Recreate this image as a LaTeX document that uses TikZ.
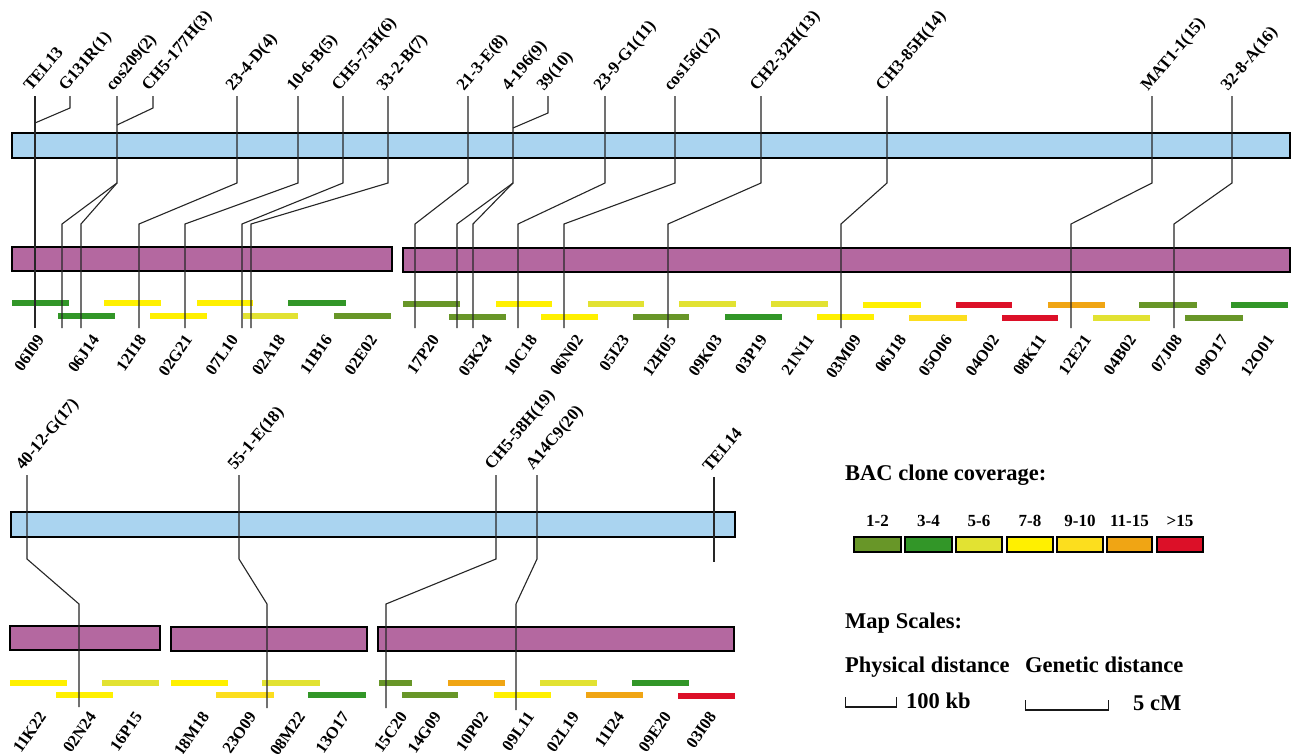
\documentclass[tikz,border=0pt]{standalone}
\usepackage{fontspec}
\setmainfont{Liberation Serif}
\definecolor{barblue}{RGB}{170,212,240}
\definecolor{barpink}{RGB}{180,104,160}
\definecolor{c12}{RGB}{104,150,40}
\definecolor{c34}{RGB}{50,150,40}
\definecolor{c56}{RGB}{226,226,50}
\definecolor{c78}{RGB}{255,240,0}
\definecolor{c910}{RGB}{252,222,30}
\definecolor{c1115}{RGB}{240,165,20}
\definecolor{c15}{RGB}{220,16,40}
\tikzset{
  mk/.style={draw=black!85, line width=1.1pt, line join=miter},
  bluebar/.style={draw=black, line width=1.4pt, fill=barblue},
  pinkbar/.style={draw=black, line width=1.4pt, fill=barpink},
  seg/.style={line width=5.5pt},
  toplab/.style={rotate=50, anchor=base west, inner sep=0pt, font=\fontsize{17}{17}\selectfont\bfseries},
  botlab/.style={rotate=55, anchor=base east, inner sep=0pt, font=\fontsize{16.5}{16.5}\selectfont\bfseries},
  head/.style={anchor=base west, inner sep=0pt, font=\fontsize{22.5}{24}\selectfont\bfseries},
  numlab/.style={anchor=base, inner sep=0pt, font=\fontsize{17}{17}\selectfont\bfseries},
  swatch/.style={draw=black, line width=1.2pt},
  scalebar/.style={draw=black!90, line width=1pt},
}
\begin{document}
\begin{tikzpicture}[x=1pt,y=-1pt]
\useasboundingbox (0,0) rectangle (1291,753);
\fill[white] (0,0) rectangle (1291,753);

% ===== top section: bars =====
\draw[bluebar] (12,133) rectangle (1290,158);
\draw[pinkbar] (12,247) rectangle (392,271);
\draw[pinkbar] (403,248) rectangle (1290,272);

% BAC clone segments (top)
\foreach \a/\b/\r/\c in {12/69/303/c34, 58/115/316/c34, 104/161/303/c78, 150/207/316/c78,
  197/253/303/c78, 243/298/316/c56, 288/346/303/c34, 334/391/316/c12,
  403/460/304/c12, 449/506/317/c12, 496/552/304/c78, 541/598/317/c78,
  588/644/304/c56, 633/689/317/c12, 679/736/304/c56, 725/782/317/c34,
  771/828/304/c56, 817/874/317/c78, 863/921/305/c78, 909/967/318/c910,
  956/1012/305/c15, 1002/1058/318/c15, 1048/1105/305/c1115, 1093/1150/318/c56,
  1139/1197/305/c12, 1185/1243/318/c12, 1231/1288/305/c34}
  \draw[seg,\c] (\a,\r) -- (\b,\r);

% markers (top) with one bottom end
\foreach \t/\xa/\xb [count=\i] in {TEL13/35/35, 23-4-D(4)/237/139, 10-6-B(5)/298/185,
  CH5-75H(6)/343/242, 33-2-B(7)/388/251, 21-3-E(8)/468/415, 23-9-G1(11)/605/518,
  cos156(12)/675/564, CH2-32H(13)/761/668, CH3-85H(14)/887/841,
  MAT1-1(15)/1152/1071, 32-8-A(16)/1232/1174}{
  \node[toplab] (ta\i) at (\xa-4,92) {\t};
  \coordinate (tat\i) at (\xa,96);
  \coordinate (tab\i) at (\xb,328);
  \draw[mk] (tat\i) -- (\xa,183) -- (\xb,224) -- (tab\i);
}
% markers with two bottom ends
\node[toplab] (cos209) at (113,92) {cos209(2)};
\coordinate (cos209t) at (117,96);
\coordinate (cos209m) at (117,183);
\coordinate (cos209a) at (62,328);
\coordinate (cos209b) at (81,328);
\draw[mk] (cos209t) -- (cos209m) -- (62,224) -- (cos209a);
\draw[mk] (cos209m) -- (81,224) -- (cos209b);
\node[toplab] (m4196) at (509,92) {4-196(9)};
\coordinate (m4196t) at (513,96);
\coordinate (m4196m) at (513,183);
\coordinate (m4196a) at (457,328);
\coordinate (m4196b) at (473,328);
\draw[mk] (m4196t) -- (m4196m) -- (457,224) -- (m4196a);
\draw[mk] (m4196m) -- (473,224) -- (m4196b);
% short side markers joining a neighbour
\node[toplab] (g131) at (66,92) {G131R(1)};
\coordinate (g131t) at (70,96);
\coordinate (g131e) at (35,123);
\draw[mk] (g131t) -- (70,108) -- (g131e);
\node[toplab] (ch5177) at (149,92) {CH5-177H(3)};
\coordinate (ch5177t) at (153,96);
\coordinate (ch5177e) at (117,125);
\draw[mk] (ch5177t) -- (153,108) -- (ch5177e);
\node[toplab] (m39) at (544,92) {39(10)};
\coordinate (m39t) at (548,96);
\coordinate (m39e) at (513,128);
\draw[mk] (m39t) -- (548,113) -- (m39e);

% clone names (top)
\foreach \t/\x [count=\i] in {06I09/45, 06J14/100, 12I18/147, 02G21/193, 07L10/239,
  02A18/286, 11B16/333, 02E02/378, 17P20/440, 05K24/493, 10C18/538, 06N02/584,
  05I23/630, 12H05/677, 09K03/723, 03P19/768, 21N11/815, 03M09/862, 06J18/907,
  05O06/953, 04O02/1000, 08K11/1047, 12E21/1092, 04B02/1137, 07J08/1183,
  09O17/1229, 12O01/1275}
  \node[botlab] (ca\i) at (\x,340) {\t};

% ===== bottom section =====
\draw[bluebar] (11,512) rectangle (735,537);
\draw[pinkbar] (10,626) rectangle (160,650);
\draw[pinkbar] (171,627) rectangle (367,651);
\draw[pinkbar] (378,627) rectangle (734,651);

\foreach \a/\b/\r/\c in {10/67/683/c78, 56/113/695/c78, 102/159/683/c56,
  171/228/683/c78, 216/274/695/c910, 262/320/683/c56, 308/366/695/c34,
  379/412/683/c12, 402/458/695/c12, 448/505/683/c1115, 494/551/695/c78,
  540/597/683/c56, 586/643/695/c1115, 632/689/683/c34, 678/735/696/c15}
  \draw[seg,\c] (\a,\r) -- (\b,\r);

\foreach \t/\xa/\xb/\yb [count=\i] in {40-12-G(17)/27/79/707, 55-1-E(18)/239/267/708,
  CH5-58H(19)/496/386/708, A14C9(20)/537/516/710}{
  \node[toplab] (tb\i) at (\xa-4,471) {\t};
  \coordinate (tbt\i) at (\xa,475);
  \coordinate (tbb\i) at (\xb,\yb);
  \draw[mk] (tbt\i) -- (\xa,559) -- (\xb,604) -- (tbb\i);
}
\node[toplab] (tel14) at (710,473) {TEL14};
\coordinate (tel14t) at (714,477);
\coordinate (tel14b) at (714,562);
\draw[mk] (tel14t) -- (tel14b);

\foreach \t/\x [count=\i] in {11K22/47, 02N24/97, 16P15/143, 18M18/210, 23O09/257,
  08M22/306, 13O17/350, 15C20/408, 14G09/442, 10P02/489, 09L11/535, 02L19/580,
  11I24/625, 09E20/672, 03I08/717}
  \node[botlab] (cb\i) at (\x,717) {\t};

% ===== legend =====
\node[head] (bachead) at (845,480) {BAC clone coverage:};
\foreach \a/\b/\c/\t [count=\i] in {854/901/c12/1-2, 905/952/c34/3-4, 956/1002/c56/5-6,
  1007/1053/c78/7-8, 1057/1103/c910/9-10, 1107/1152/c1115/11-15, 1157/1203/c15/{>15}}{
  \draw[swatch, fill=\c] (\a,537) rectangle (\b,552);
  \node[numlab] (sw\i) at ({(\a+\b)/2},526) {\t};
}
\node[head] (maphead) at (845,628) {Map Scales:};
\node[head] (phys) at (845,672) {Physical distance};
\node[head] (gen) at (1025,672) {Genetic distance};
\coordinate (pa) at (845,697);
\coordinate (pb) at (896,697);
\draw[scalebar] (pa) -- (845,707);
\draw[scalebar] (pb) -- (896,707);
\draw[draw=black!90, line width=2.6pt] (844.5,707) -- (896.5,707);
\node[head] (kb) at (906,708) {100 kb};
\coordinate (ga) at (1025,700);
\coordinate (gb) at (1108,700);
\draw[scalebar] (ga) -- (1025,710);
\draw[scalebar] (gb) -- (1108,710);
\draw[draw=black!90, line width=2.6pt] (1024.5,710) -- (1108.5,710);
\node[head] (cm) at (1133,710) {5 cM};
\end{tikzpicture}
\end{document}
